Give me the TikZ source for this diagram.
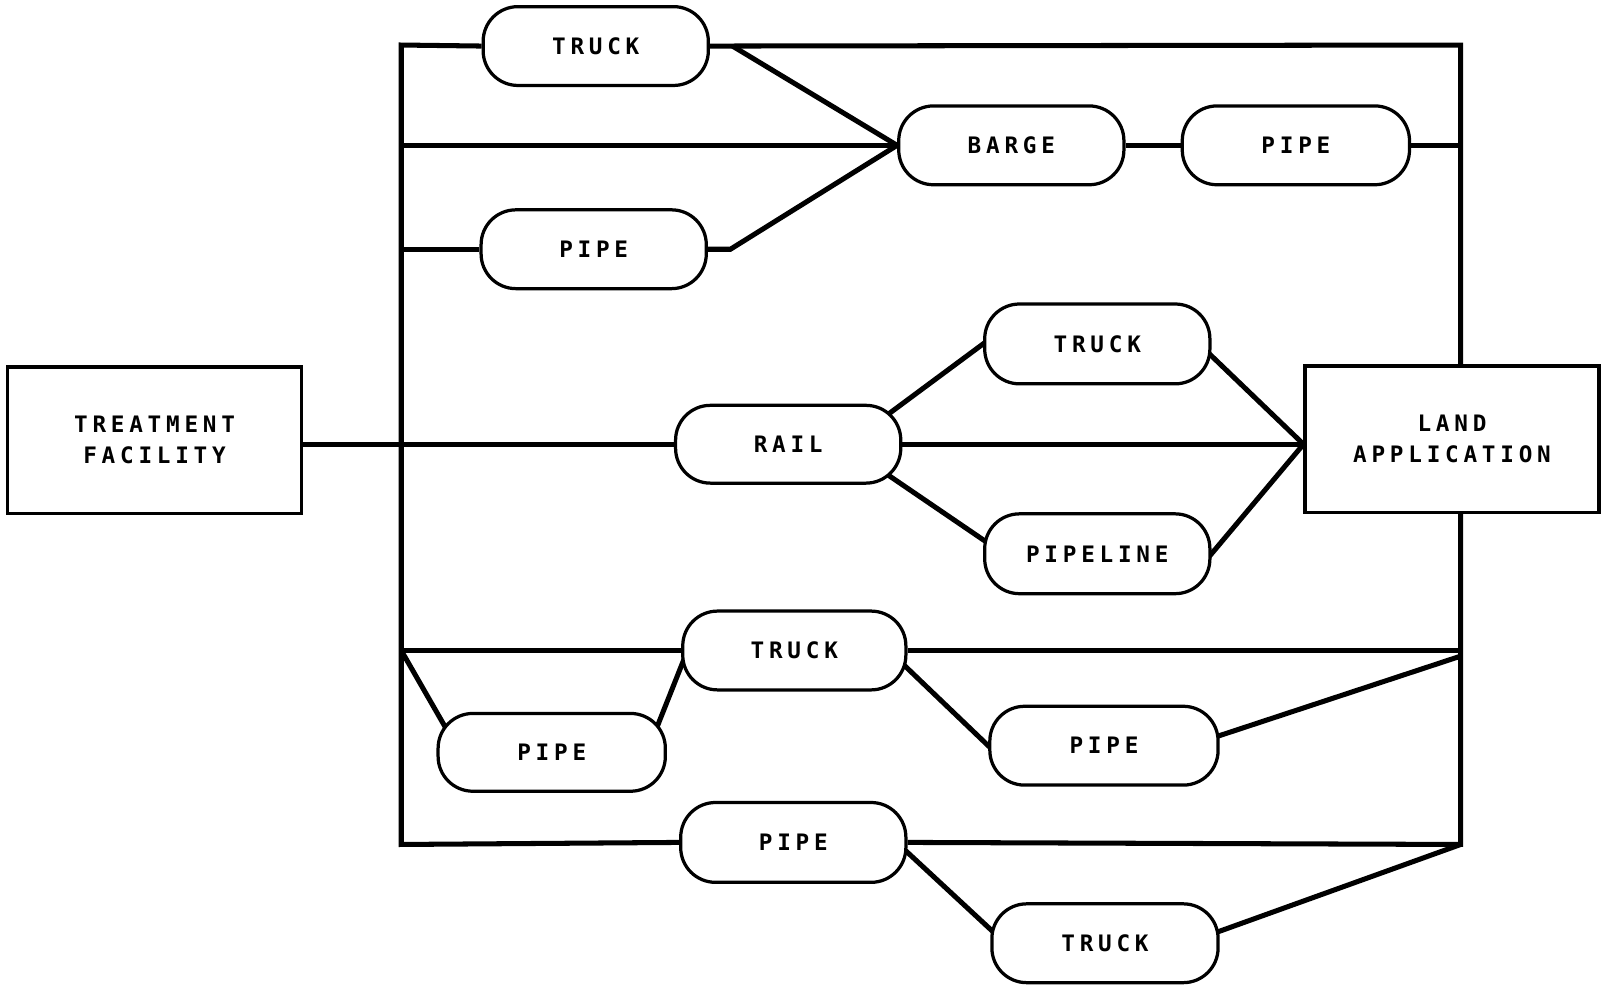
\documentclass[tikz,border=0pt]{standalone}
\usepackage{fontspec}
\usepackage{tikz}
\usetikzlibrary{backgrounds}
\newfontfamily\plotfont[LetterSpace=21]{DejaVu Sans Mono Bold}
\newcommand\modefont{\plotfont\fontsize{6.3pt}{8.5pt}\selectfont}
\tikzset{
  mode/.style = {rectangle, rounded corners=0.34cm, draw=black, line width=0.9pt,
                 fill=white, minimum width=2.2cm, minimum height=0.77cm,
                 inner sep=0pt, font=\modefont},
  site/.style = {rectangle, draw=black, line width=0.9pt, fill=white,
                 minimum width=2.87cm, minimum height=1.43cm,
                 align=center, font=\modefont},
  link/.style = {line width=1.4pt, line join=miter},
  into/.style = {shorten <=-0.2cm, shorten >=-0.2cm},
}

\begin{document}
\begin{tikzpicture}

  \useasboundingbox (0,0) rectangle (15.68,-9.68);

  % end points
  \node[site] (tf) at (1.51,-4.30) {TREATMENT\\FACILITY};
  \node[site] (la) at (14.185,-4.29) {LAND\\APPLICATION};

  % transport modes
  \node[mode] (truckA) at (5.82,-0.45) {TRUCK};
  \node[mode] (pipeA) at (5.80,-2.435) {PIPE};
  \node[mode] (barge) at (9.88,-1.42) {BARGE};
  \node[mode, minimum width=2.22cm] (pipeB) at (12.66,-1.42) {PIPE};
  \node[mode, minimum height=0.76cm] (rail) at (7.70,-4.34) {RAIL};
  \node[mode, minimum height=0.78cm] (truckB) at (10.72,-3.36) {TRUCK};
  \node[mode, minimum height=0.78cm] (pipeline) at (10.72,-5.41) {PIPELINE};
  \node[mode, minimum width=2.18cm] (truckC) at (7.76,-6.355) {TRUCK};
  \node[mode, minimum width=2.22cm, minimum height=0.76cm] (pipeC) at (5.39,-7.35) {PIPE};
  \node[mode, minimum width=2.23cm] (pipeD) at (10.785,-7.285) {PIPE};
  \node[mode, minimum height=0.78cm] (pipeE) at (7.75,-8.23) {PIPE};
  \node[mode, minimum width=2.21cm] (truckD) at (10.795,-9.215) {TRUCK};

  % the two collecting lines
  \coordinate (lt) at (3.92,-0.44);
  \coordinate (lb) at (3.92,-8.25);
  \coordinate (rt) at (14.27,-0.44);
  \coordinate (rb) at (14.27,-8.25);
  \coordinate (rd) at (14.27,-6.41);
  \coordinate (lw) at (la.west |- rail);

  \begin{scope}[on background layer]
    \draw[link] (truckA.west) -- (lt) -- (lb) -- (pipeE.west);
    \draw[link] (truckA.east) -- (rt) -- (rt |- la.north);
    \draw[link] (pipeE.east) -- (rb) -- (rb |- la.south);

    \draw[link, shorten >=-0.2cm] ([xshift=0.22cm]truckA.east) -- (barge.west);
    \draw[link] (lt |- barge) -- (barge.west);
    \draw[link] (barge) -- (pipeB);
    \draw[link] (pipeB.east) -- (rt |- pipeB);
    \draw[link] (lt |- pipeA) -- (pipeA.west);
    \draw[link, shorten >=-0.2cm] (pipeA.east) -- ++(0.22,0) -- (barge.west);

    \draw[link] (tf.east |- rail) -- (rail.west);
    \draw[link, into] (rail.north east) -- (truckB.west);
    \draw[link] (rail.east) -- (lw);
    \draw[link, into] (rail.south east) -- (pipeline.173);
    \draw[link, into] (truckB.-6) -- (lw);
    \draw[link, into] (pipeline.east) -- (lw);

    \draw[link] (lb |- truckC) -- (truckC.west);
    \draw[link] (truckC.east) -- (rt |- truckC);
    \draw[link, shorten >=-0.2cm] (lb |- truckC) -- (pipeC.north west);
    \draw[link, into] (pipeC.20) -- (truckC.188);
    \draw[link, into] (truckC.-9) -- (pipeD.west);
    \draw[link, shorten <=-0.2cm] (pipeD.5) -- (rd);

    \draw[link, into] (pipeE.-5) -- (truckD.173);
    \draw[link, shorten <=-0.2cm] (truckD.6) -- (rb);
  \end{scope}

\end{tikzpicture}
\end{document}
